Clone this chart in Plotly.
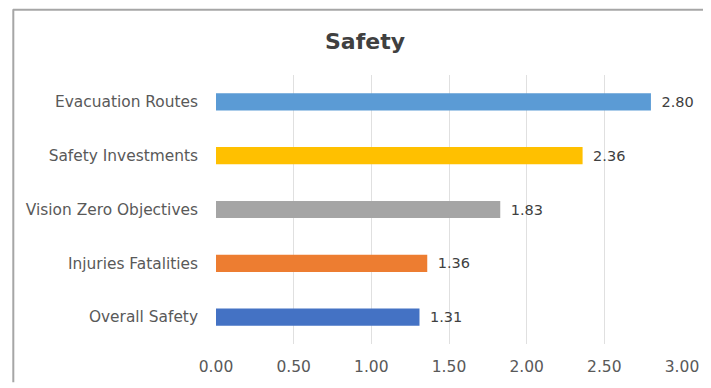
import plotly.graph_objects as go

categories = ["Evacuation Routes", "Safety Investments", "Vision Zero Objectives",
              "Injuries Fatalities", "Overall Safety"]
values = [2.80, 2.36, 1.83, 1.36, 1.31]
colors = ["#5B9BD5", "#FFC000", "#A5A5A5", "#ED7D31", "#4472C4"]
tick_vals = [0, 0.5, 1.0, 1.5, 2.0, 2.5, 3.0]
tick_text = ["0.00", "0.50", "1.00", "1.50", "2.00", "2.50", "3.00"]

# page body has an 8px margin, so the figure is drawn 8px smaller and offset
OFF = 8
W, H = 711 - OFF, 388 - OFF
L, R, T, B = 216 - OFF, 29, 75 - OFF, 39
pw, ph = W - L - R, H - T - B
FONT = "DejaVu Sans"

def px_x(x):
    return (x - L) / pw

def px_y(y):
    return (H - B - y) / ph

fig = go.Figure(go.Bar(
    y=categories, x=values, orientation="h",
    marker=dict(color=colors, line=dict(width=0)),
    width=0.32,
    text=[f"{v:.2f}" for v in values],
    texttemplate=" \u2009%{text}",
    textposition="outside",
    textfont=dict(family=FONT, size=14.5, color="#404040"),
    cliponaxis=False,
))

fig.update_layout(
    width=W, height=H,
    margin=dict(l=L, r=R, t=T, b=B),
    paper_bgcolor="white", plot_bgcolor="white",
    showlegend=False,
    title=dict(text="<b>Safety</b>", x=(365 - OFF) / W, xanchor="center",
               y=1 - (41 - OFF) / H, yanchor="middle",
               font=dict(family=FONT, size=22, color="#404040")),
    xaxis=dict(range=[0, 3.0], tickvals=tick_vals, ticktext=tick_text,
               showgrid=True, gridcolor="#E0E0E0", gridwidth=1, zeroline=False,
               showline=False, ticks="", ticklabelstandoff=11,
               tickfont=dict(family=FONT, size=15.5, color="#595959")),
    yaxis=dict(categoryorder="array", categoryarray=categories[::-1],
               showgrid=False, zeroline=False, showline=False, ticks="",
               ticklabelstandoff=17,
               tickfont=dict(family=FONT, size=15.4, color="#595959")),
    shapes=[
        dict(type="line", xref="paper", yref="paper", x0=px_x(5), x1=px_x(W), y0=px_y(0.5), y1=px_y(0.5),
             line=dict(color="#A6A6A6", width=2)),
        dict(type="line", xref="paper", yref="paper", x0=px_x(5.3), x1=px_x(5.3), y0=px_y(0), y1=px_y(H),
             line=dict(color="#A6A6A6", width=2)),
    ],
)

fig.write_html("out.html")
